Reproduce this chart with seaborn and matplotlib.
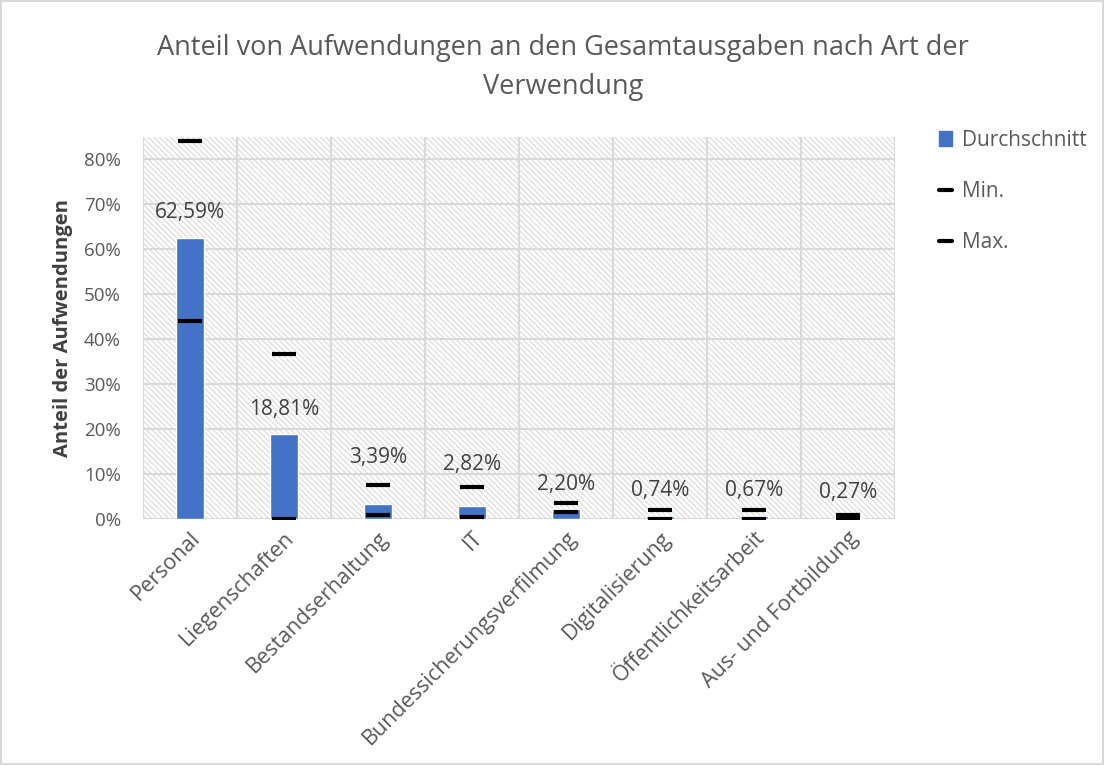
import seaborn as sns
import matplotlib.pyplot as plt
from matplotlib.patches import Rectangle
from matplotlib.lines import Line2D
from matplotlib.ticker import FuncFormatter

sns.set_theme(style='white')
plt.rcParams['font.family'] = ['Open Sans', 'DejaVu Sans']
plt.rcParams['hatch.color'] = '#d9d9d9'
plt.rcParams['hatch.linewidth'] = 0.8

# data (shares in %)
categories = ['Personal', 'Liegenschaften', 'Bestandserhaltung', 'IT',
              'Bundessicherungsverfilmung', 'Digitalisierung',
              'Öffentlichkeitsarbeit', 'Aus- und Fortbildung']
average = [62.59, 18.81, 3.39, 2.82, 2.20, 0.74, 0.67, 0.27]
minimum = [44.0, 0.0, 0.9, 0.4, 1.6, 0.0, 0.0, 0.1]
maximum = [84.2, 36.7, 7.6, 7.1, 3.6, 2.0, 2.0, 0.8]

blue = '#4472C4'
grey = '#595959'

fig = plt.figure(figsize=(11.04, 7.65), dpi=100)
fig.patch.set_edgecolor('#d9d9d9')
fig.patch.set_linewidth(1.5)
ax = fig.add_axes([0.1295, 0.3216, 0.6812, 0.4993])

# hatched plot area
ax.add_patch(Rectangle((0, 0), 1, 1, transform=ax.transAxes, fill=False,
                       hatch='\\\\\\\\\\\\', edgecolor='#d9d9d9', lw=0, zorder=0))

sns.barplot(x=categories, y=average, color=blue, width=0.29, ax=ax,
            saturation=1, zorder=3)
sns.scatterplot(x=categories, y=minimum, marker='_', s=320, linewidth=3,
                color='black', ax=ax, zorder=4)
sns.scatterplot(x=categories, y=maximum, marker='_', s=320, linewidth=3,
                color='black', ax=ax, zorder=4)

# value labels
extra = [0, 0, 15, 12, 0, 0, 0, 0]
for i, v in enumerate(average):
    ax.annotate(f'{v:.2f}%'.replace('.', ','), (i, v),
                xytext=(0, 18 + extra[i]), textcoords='offset points',
                ha='center', va='center', fontsize=15, color='#404040', zorder=5)

ax.set_ylim(0, 85)
ax.set_xlim(-0.5, len(categories) - 0.5)
ax.set_yticks(range(0, 81, 10))
ax.yaxis.set_major_formatter(FuncFormatter(lambda y, p: f'{y:.0f}%'))
for y in range(0, 81, 10):
    ax.axhline(y, color='#d9d9d9', lw=1.5, zorder=1)
for x in range(len(categories) + 1):
    ax.axvline(x - 0.5, color='#d9d9d9', lw=1.5, zorder=1)
for s in ax.spines.values():
    s.set_visible(False)

ax.tick_params(axis='both', length=0, labelcolor=grey)
ax.tick_params(axis='y', pad=16, labelsize=13.5)
ax.tick_params(axis='x', pad=6, labelsize=15.5)
plt.setp(ax.get_xticklabels(), rotation=45, ha='right', rotation_mode='anchor')
ax.set_ylabel('Anteil der Aufwendungen', fontsize=14.5, fontweight='bold',
              color='#404040', labelpad=8)

fig.suptitle('Anteil von Aufwendungen an den Gesamtausgaben nach Art der\nVerwendung',
             x=0.51, y=0.955, fontsize=19.5, color=grey, linespacing=1.5)

handles = [Rectangle((0, 0), 1, 1, color=blue),
           Line2D([], [], color='black', lw=3),
           Line2D([], [], color='black', lw=3)]
fig.legend(handles, ['Durchschnitt', 'Min.', 'Max.'], loc='upper left',
           bbox_to_anchor=(0.834, 0.855), frameon=False, fontsize=15,
           labelcolor=grey, labelspacing=1.45, handlelength=0.6,
           handletextpad=0.5)

fig.savefig('out.png', dpi=100)
